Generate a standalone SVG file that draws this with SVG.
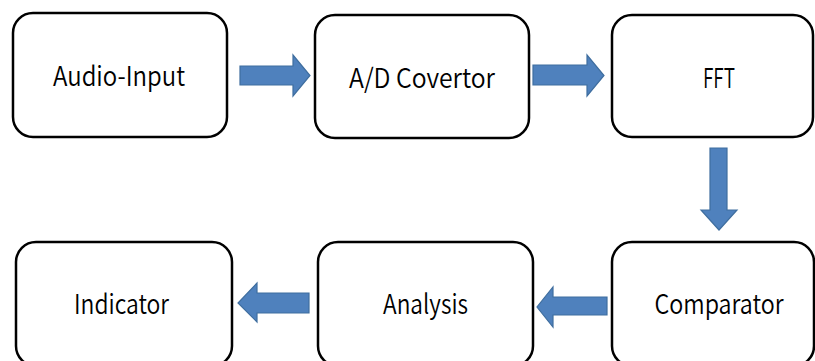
<svg xmlns="http://www.w3.org/2000/svg" width="815" height="361" viewBox="0 0 815 361">
<style>
.box{fill:#fff;stroke:#000;stroke-width:2.5}
.lbl{font-family:"Noto Sans CJK KR","Open Sans",sans-serif;font-size:27px;font-weight:350;fill:#000;text-anchor:middle}
.arr{fill:#4F81BD;stroke:#3F6E9F;stroke-width:1.2}
</style>
<rect width="815" height="361" fill="#fff"/>
<g id="connectors">
<polygon class="arr" points="240,66 293,66 293,55 310,75.5 293,96 293,85 240,85"/>
<polygon class="arr" points="533,65 587,65 587,55 604,75.5 587,96 587,85 533,85"/>
<polygon class="arr" points="710,148 727,148 727,210 737,210 719,230 701,210 710,210"/>
<polygon class="arr" points="607,297 553,297 553,287 537,307 553,327 553,315 607,315"/>
<polygon class="arr" points="309,293 257,293 257,283 238,303 257,322 257,313 309,313"/>
</g>
<g id="audio-input"><rect class="box" x="13" y="13" width="214" height="124" rx="20"/><text class="lbl" x="119" y="86" textLength="132" lengthAdjust="spacingAndGlyphs">Audio-Input</text></g>
<g id="ad-covertor"><rect class="box" x="315" y="15" width="214" height="123" rx="20"/><text class="lbl" x="422" y="88" textLength="146" lengthAdjust="spacingAndGlyphs">A/D Covertor</text></g>
<g id="fft"><rect class="box" x="612" y="15" width="201" height="122" rx="20"/><text class="lbl" x="719" y="88" textLength="32" lengthAdjust="spacingAndGlyphs">FFT</text></g>
<g id="comparator"><rect class="box" x="612" y="242" width="202" height="124" rx="20"/><text class="lbl" x="719" y="314" textLength="129" lengthAdjust="spacingAndGlyphs">Comparator</text></g>
<g id="analysis"><rect class="box" x="318" y="242" width="215" height="124" rx="20"/><text class="lbl" x="425.5" y="314" textLength="85" lengthAdjust="spacingAndGlyphs">Analysis</text></g>
<g id="indicator"><rect class="box" x="16" y="242" width="216" height="124" rx="20"/><text class="lbl" x="121.5" y="314" textLength="95" lengthAdjust="spacingAndGlyphs">Indicator</text></g>
</svg>
